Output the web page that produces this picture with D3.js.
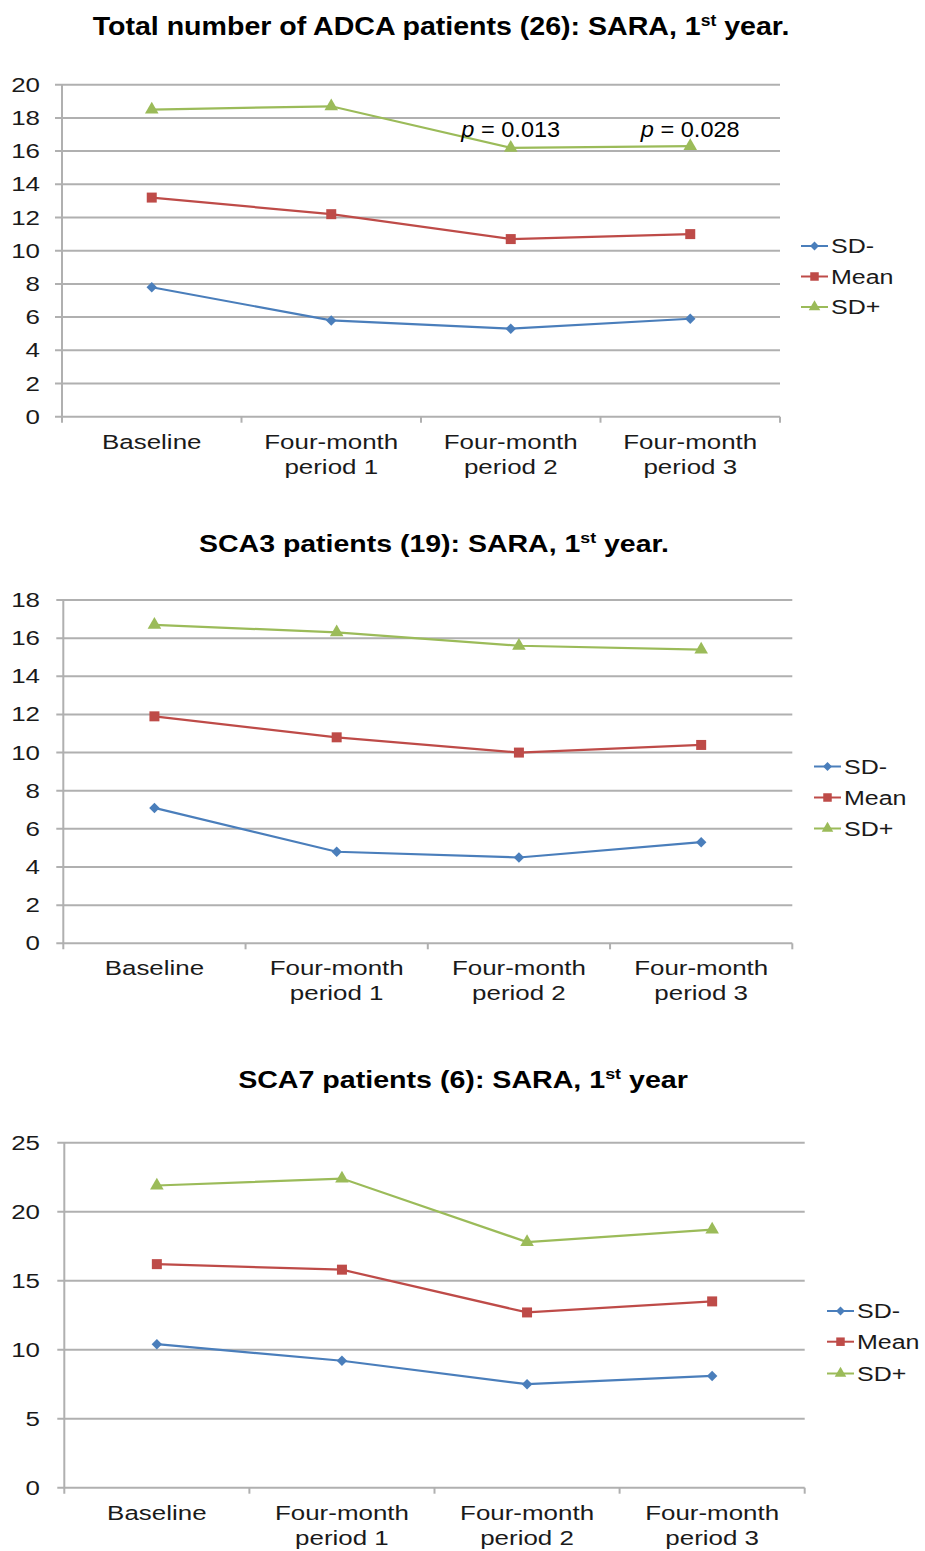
<!DOCTYPE html>
<html>
<head>
<meta charset="utf-8">
<script src="https://cdn.jsdelivr.net/npm/d3@7"></script>
<style>
  body { margin: 0; background: #fff; }
  text { font-family: "Liberation Sans", Arial, sans-serif; fill: #1a1a1a; }
</style>
</head>
<body>
<svg id="fig" width="925" height="1551"></svg>
<script>
// categories and series
var categories = ["Baseline", "Four-month period 1", "Four-month period 2", "Four-month period 3"];
var seriesNames = ["SD-", "Mean", "SD+"];

// chart 1: total ADCA (26)
var adcaSdMinus = [7.8, 5.8, 5.3, 5.9];
var adcaMean    = [13.2, 12.2, 10.7, 11.0];
var adcaSdPlus  = [18.5, 18.7, 16.2, 16.3];
var adcaTicks   = [0, 2, 4, 6, 8, 10, 12, 14, 16, 18, 20];
var adcaPvalues = [null, null, "0.013", "0.028"];

// chart 2: SCA3 (19)
var sca3SdMinus = [7.1, 4.8, 4.5, 5.3];
var sca3Mean    = [11.9, 10.8, 10.0, 10.4];
var sca3SdPlus  = [16.7, 16.3, 15.6, 15.4];
var sca3Ticks   = [0, 2, 4, 6, 8, 10, 12, 14, 16, 18];

// chart 3: SCA7 (6)
var sca7SdMinus = [10.4, 9.2, 7.5, 8.1];
var sca7Mean    = [16.2, 15.8, 12.7, 13.5];
var sca7SdPlus  = [21.9, 22.4, 17.8, 18.7];
var sca7Ticks   = [0, 5, 10, 15, 20, 25];

var colors = { "SD-": "#4a7ebb", "Mean": "#be4b48", "SD+": "#9bbb59" };
var svg = d3.select("#fig");

// the original picture is stretched sideways, so text is widened a bit
function wideText(g, x, y, sx) {
    return g.append("text")
        .attr("transform", "translate(" + x + "," + y + ") scale(" + sx + ",1)");
}

function markerPath(name) {
    if (name === "SD-") return d3.symbol().type(d3.symbolDiamond2).size(70)();
    if (name === "Mean") return d3.symbol().type(d3.symbolSquare).size(100)();
    return d3.symbol().type(d3.symbolTriangle).size(80)();
}

function drawChart(cfg) {
    var g = svg.append("g");

    // title with superscript
    var title = g.append("text")
        .attr("text-anchor", "middle")
        .style("font-size", cfg.titleSize + "px").style("font-weight", "bold")
        .style("fill", "#000");
    title.append("tspan").text(cfg.title[0]);
    title.append("tspan").text("st").style("font-size", Math.round(cfg.titleSize * 0.62) + "px").attr("dy", -9);
    title.append("tspan").text(cfg.title[1]).attr("dy", 9);
    var w = title.node().getComputedTextLength();
    title.attr("transform", "translate(" + cfg.titleX + "," + cfg.titleY + ") scale(" + (cfg.titleW / w) + ",1)");

    var x = d3.scaleBand().domain(categories).range([cfg.left, cfg.right]);
    var y = d3.scaleLinear().domain([cfg.ticks[0], cfg.ticks[cfg.ticks.length - 1]]).range([cfg.bottom, cfg.top]);
    var cx = c => x(c) + x.bandwidth() / 2;

    // gridlines
    g.selectAll(".grid").data(cfg.ticks).enter().append("line")
        .attr("x1", cfg.left - 7).attr("x2", cfg.right)
        .attr("y1", d => y(d)).attr("y2", d => y(d))
        .attr("stroke", "#b0b0b0").attr("stroke-width", 2);

    // y axis line
    g.append("line")
        .attr("x1", cfg.left).attr("x2", cfg.left)
        .attr("y1", cfg.top).attr("y2", cfg.bottom + 6)
        .attr("stroke", "#b0b0b0").attr("stroke-width", 2);

    // category ticks
    var edges = categories.map(c => x(c)).concat([cfg.right]);
    g.selectAll(".xt").data(edges.slice(1)).enter().append("line")
        .attr("x1", d => d).attr("x2", d => d)
        .attr("y1", cfg.bottom).attr("y2", cfg.bottom + 6)
        .attr("stroke", "#b0b0b0").attr("stroke-width", 2);

    // y tick labels
    cfg.ticks.forEach(function(t) {
        wideText(g, 40, y(t) + 7, 1.33)
            .attr("text-anchor", "end")
            .style("font-size", "19.5px")
            .text(t);
    });

    // x labels
    categories.forEach(function(c) {
        var parts = c === "Baseline" ? ["Baseline"] : ["Four-month", c.replace("Four-month ", "")];
        parts.forEach(function(p, i) {
            wideText(g, cx(c), cfg.bottom + 32 + i * 25, 1.33)
                .attr("text-anchor", "middle")
                .style("font-size", "19.5px")
                .text(p);
        });
    });

    var line = d3.line()
        .x((d, i) => cx(categories[i]))
        .y(d => y(d));

    cfg.series.forEach(function(vals, si) {
        var name = seriesNames[si];
        g.append("path")
            .datum(vals)
            .attr("d", line)
            .attr("fill", "none")
            .attr("stroke", colors[name])
            .attr("stroke-width", 2.2);
        g.selectAll(".m" + si).data(vals).enter().append("path")
            .attr("d", markerPath(name))
            .attr("transform", (d, i) => "translate(" + cx(categories[i]) + "," + y(d) + ")")
            .attr("fill", colors[name]);
    });

    // p-value annotations
    if (cfg.pvalues) {
        var topP = d3.max(cfg.series[2].filter((d, i) => cfg.pvalues[i]));
        cfg.pvalues.forEach(function(p, i) {
            if (!p) return;
            var t = wideText(g, cx(categories[i]), y(topP) - 9, 1.07)
                .attr("text-anchor", "middle")
                .style("font-size", "22px")
                .style("fill", "#000");
            t.append("tspan").text("p").style("font-style", "italic");
            t.append("tspan").text(" = " + p);
        });
    }

    // legend
    seriesNames.forEach(function(name, i) {
        var ly = cfg.legendY[i];
        g.append("line")
            .attr("x1", cfg.legendX).attr("x2", cfg.legendX + 27)
            .attr("y1", ly).attr("y2", ly)
            .attr("stroke", colors[name]).attr("stroke-width", 2);
        g.append("path")
            .attr("d", markerPath(name))
            .attr("transform", "translate(" + (cfg.legendX + 13.5) + "," + ly + ") scale(0.85)")
            .attr("fill", colors[name]);
        wideText(g, cfg.legendX + 30, ly + 7, 1.25)
            .style("font-size", "20px")
            .text(name);
    });
}

drawChart({
    title: ["Total number of ADCA patients (26): SARA, 1", " year."],
    titleSize: 26, titleX: 441, titleY: 35, titleW: 697,
    left: 62, right: 780, top: 84.7, bottom: 416.7,
    ticks: adcaTicks,
    series: [adcaSdMinus, adcaMean, adcaSdPlus],
    pvalues: adcaPvalues,
    legendX: 801, legendY: [246, 276.5, 307]
});

drawChart({
    title: ["SCA3 patients (19): SARA, 1", " year."],
    titleSize: 24, titleX: 434, titleY: 552, titleW: 470,
    left: 63.3, right: 792.3, top: 600, bottom: 943.3,
    ticks: sca3Ticks,
    series: [sca3SdMinus, sca3Mean, sca3SdPlus],
    legendX: 814, legendY: [766.5, 797.5, 828.5]
});

drawChart({
    title: ["SCA7 patients (6): SARA, 1", " year"],
    titleSize: 24, titleX: 463, titleY: 1088, titleW: 450,
    left: 64.3, right: 804.7, top: 1142.7, bottom: 1487.7,
    ticks: sca7Ticks,
    series: [sca7SdMinus, sca7Mean, sca7SdPlus],
    legendX: 827, legendY: [1311, 1341.7, 1373.5]
});
</script>
</body>
</html>
